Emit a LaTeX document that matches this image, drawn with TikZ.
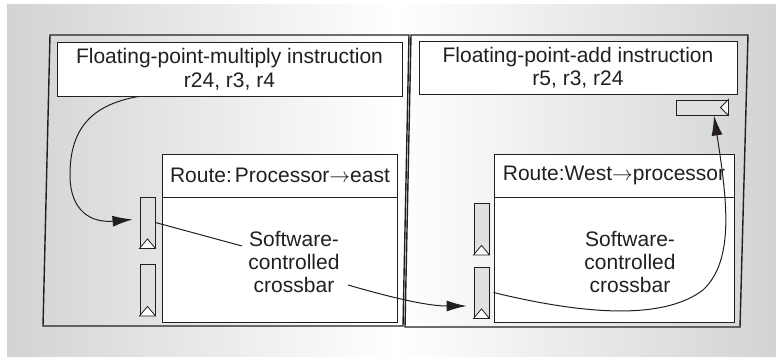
\documentclass[tikz,border=0pt]{standalone}
\usepackage{fontspec}
\setmainfont{Liberation Sans}
\usetikzlibrary{arrows.meta,calc}
\definecolor{bggray}{HTML}{D1D3D5}
\definecolor{ink}{HTML}{231F20}
\definecolor{fifogray}{HTML}{DEE0E2}
\newcommand{\routearrow}{\ensuremath{\rightarrow}}
\begin{document}
\begin{tikzpicture}[x=1pt,y=-1pt,
  every node/.style={text=ink, font=\fontsize{21}{23.5}\selectfont},
  tile/.style={draw=ink, line width=1.4pt, line join=miter},
  instr/.style={draw=ink, fill=white, line width=1pt, inner sep=0pt, align=center},
  routebox/.style={draw=ink, fill=white, line width=1pt, inner sep=0pt,
                   minimum height=168pt},
  fifoV/.style={draw=ink, fill=fifogray, line width=0.9pt, inner sep=0pt,
                minimum width=15pt, minimum height=51pt},
  fifoH/.style={draw=ink, fill=fifogray, line width=0.9pt, inner sep=0pt,
                minimum width=52pt, minimum height=15pt},
  tri/.style={draw=ink, fill=white, line width=0.8pt, line join=miter},
  wire/.style={draw=ink, line width=1pt},
  flow/.style={wire, -{Latex[length=20pt,width=11pt]}}]

\useasboundingbox (0,0) rectangle (776,356);

% shaded backdrop
\shade[left color=bggray, right color=white] (7,4) rectangle (396,356);
\shade[left color=white, right color=bggray] (395,4) rectangle (776,356);

% the two tiles
\draw[tile] (50,35) -- (409,35) -- (403,326) -- (43,326) -- cycle;
\draw[tile] (411,35) -- (748,35) -- (740,327) -- (405,327) -- cycle;

% instructions
\node[instr, minimum width=345pt, minimum height=54pt] (instrL) at (229.5,69)
  {Floating-point-multiply instruction\\r24, r3, r4};
\node[instr, minimum width=318pt, minimum height=53pt] (instrR) at (578,67.5)
  {Floating-point-add instruction\\r5, r3, r24};

% switch route boxes
\node[routebox, minimum width=235pt] (routeL) at (279.5,238) {};
\node[routebox, minimum width=240pt] (routeR) at (614,238) {};
\draw[wire] (routeL.west |- 0,197) -- (routeL.east |- 0,197);
\draw[wire] (routeR.west |- 0,197) -- (routeR.east |- 0,197);
\node (hdrL) at (280,175.5) {Route:\hspace{3pt}Processor\routearrow east};
\node (hdrR) at (614,175.5) {Route:West\routearrow processor};
\node[align=center] (xbarL) at (294,262) {Software-\\controlled\\crossbar};
\node[align=center] (xbarR) at (630,262) {Software-\\controlled\\crossbar};

% buffers
\node[fifoV] (bufL1) at (147.5,222.5) {};
\node[fifoV] (bufL2) at (147.5,290) {};
\node[fifoV] (bufR1) at (481.5,229) {};
\node[fifoV] (bufR2) at (481.5,292.5) {};
\node[fifoH] (bufT) at (702,107.5) {};
\foreach \b in {bufL1,bufL2,bufR1,bufR2}
  \draw[tri] (\b.south west) -- ($(\b.south)+(0,-9.5)$) -- (\b.south east) -- cycle;
\draw[tri] (bufT.north east) -- ($(bufT.east)+(-8,0)$) -- (bufT.south east) -- cycle;

% operand path
\coordinate (xin) at (242,246);
\coordinate (xout) at (348,285);
\draw[flow] ($(instrL.south west)+(82,0)$)
  .. controls (90,105) and (70,130) .. (70,175)
  .. controls (70,212) and (92,223) .. ($(bufL1.west)+(-7,-3)$);
\draw[wire] (bufL1.east) -- (xin);
\draw[flow] (xout) .. controls (400,300) and (430,306) .. ($(bufR2.west)+(-7,13.5)$);
\draw[flow] (routeR.west |- bufR2.east)
  .. controls (590,316) and (665,319) .. (703,290)
  .. controls (735,260) and (727,200) .. ($(bufT.south)+(12,0)$);
\end{tikzpicture}
\end{document}
